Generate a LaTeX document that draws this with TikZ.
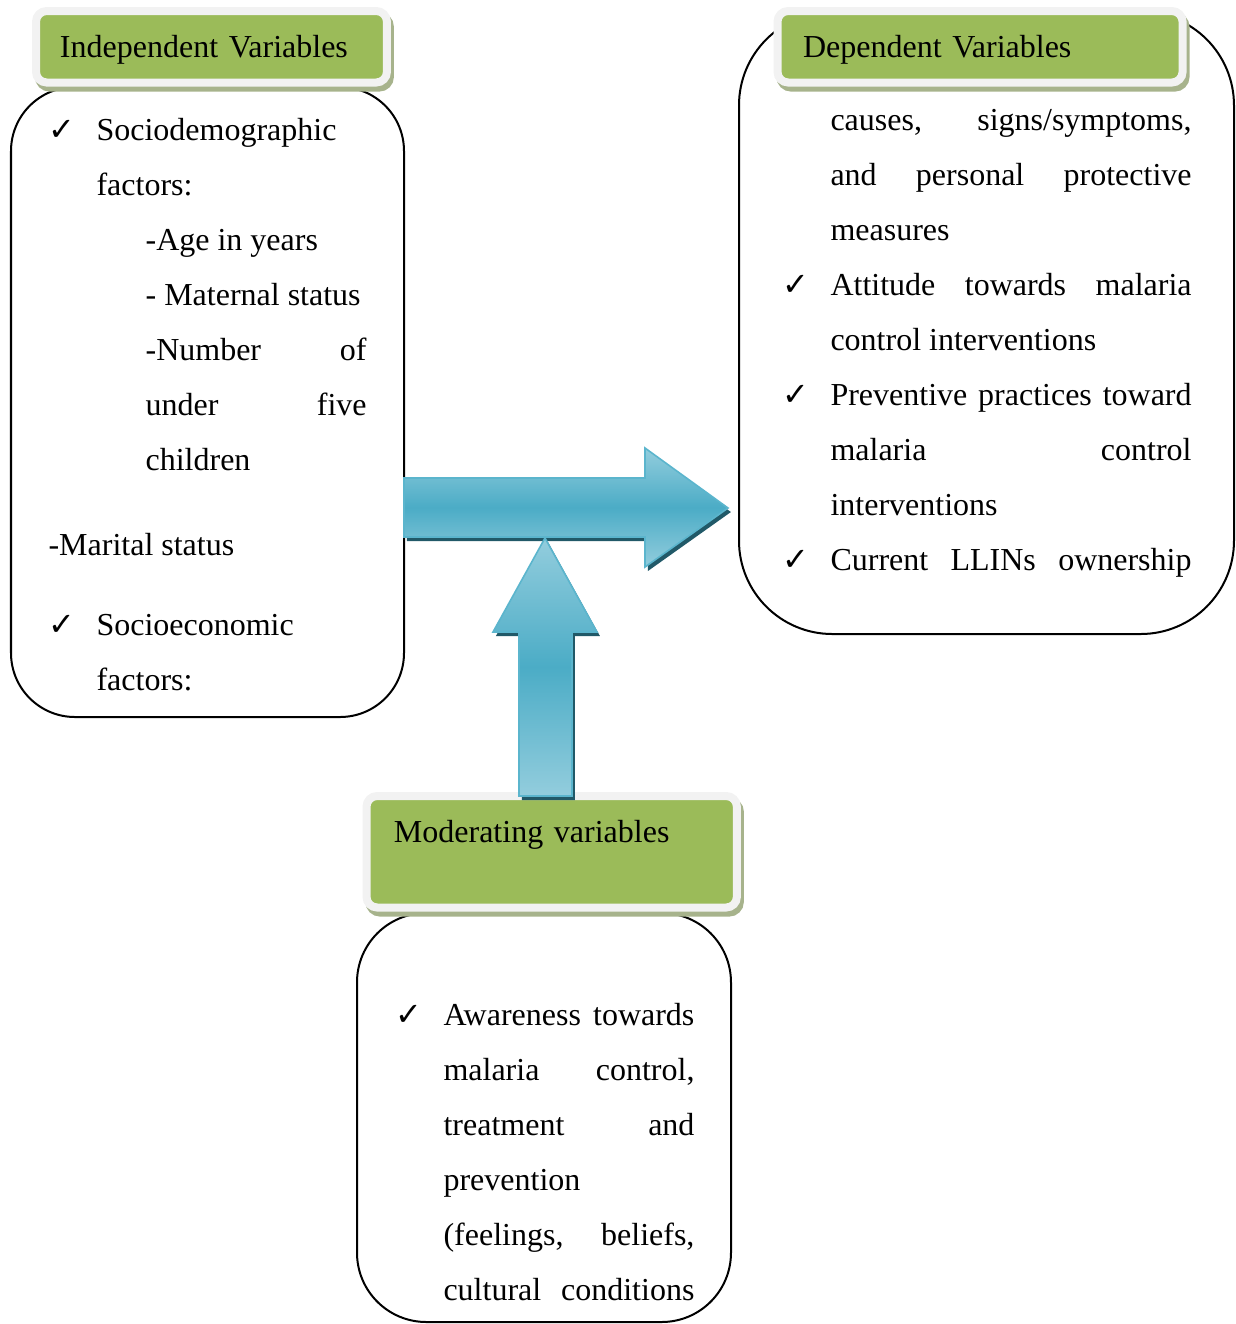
\documentclass[tikz,border=0pt]{standalone}
\usepackage{fontspec}
\setmainfont{Liberation Serif}
\newfontfamily\symfont{DejaVu Sans}
\usetikzlibrary{shadows}

\definecolor{hdrgreen}{HTML}{9BBB59}
\definecolor{hdrframe}{HTML}{F2F2F2}
\definecolor{hdrshadow}{HTML}{A7B38C}
\definecolor{arrlight}{HTML}{93CDDD}
\definecolor{arrmid}{HTML}{4BACC6}
\definecolor{arredge}{HTML}{5BB5CD}
\definecolor{arrshadow}{HTML}{215968}

\tikzset{every picture/.style={x=0.375pt,y=-0.375pt}}
\tikzset{hdr/.style = {draw=hdrframe, line width=3pt, fill=hdrgreen, rounded corners=4pt,
  anchor=north west, inner ysep=0pt, outer sep=0pt, align=left, font=\fontsize{12}{14}\selectfont,
  drop shadow={shadow xshift=1.1pt, shadow yshift=-1.9pt, fill=hdrshadow, draw=hdrshadow, line width=3pt, opacity=1}}}
\tikzset{varbox/.style = {draw, line width=0.75pt}}
\tikzset{body/.style = {anchor=base west, inner sep=0pt, font=\fontsize{12}{20.625}\selectfont}}
\tikzset{blockarrow/.style = {draw=arredge, line width=0.6pt, top color=arrlight, bottom color=arrlight, middle color=arrmid,
  preaction={fill=arrshadow, transform canvas={shift={(1.1pt,-1.5pt)}}}}}

\newcommand{\tick}{\makebox[18pt][l]{\symfont ✓}}
\newcommand{\jline}[2]{\makebox[#1][s]{#2}}

\begin{document}
\begin{tikzpicture}
\useasboundingbox (0,0) rectangle (1236,1324);
% rounded boxes
\draw[varbox, rounded corners=24pt] (11,87) rectangle (404,717);
\draw[varbox, rounded corners=35pt] (739,12) rectangle (1234,634);
\draw[varbox, rounded corners=26pt] (357,913) rectangle (731,1322);
%
\node[hdr, minimum width=131.6pt, inner xsep=9pt, text width=113.6pt, text height=17.25pt, text depth=9.56pt]
  (indep) at (36,11) {Independent Variables};
\node[hdr, minimum width=151.9pt, inner xsep=9.56pt, text width=132.75pt, text height=17.25pt, text depth=9.56pt]
  (dep) at (777.5,11) {Dependent Variables};
\node[hdr, minimum width=138.9pt, inner xsep=10.3pt, text width=118.3pt, text height=17.25pt, text depth=24.56pt]
  (moder) at (366.5,796) {Moderating variables};
%
\node[body] (indeptext) at (48,140) {\parbox[t]{160pt}{\raggedright
\tick Sociodemographic\\
\hspace*{18pt}factors:\\
\hspace*{36.4pt}-Age in years\\
\hspace*{36.4pt}- Maternal status\\
\hspace*{36.4pt}\jline{82.9pt}{-Number of}\\
\hspace*{36.4pt}\jline{82.9pt}{under five}\\
\hspace*{36.4pt}children\\[11.25pt]
-Marital status\\[9.4pt]
\tick Socioeconomic\\
\hspace*{18pt}factors:}};
\node[body] (deptext) at (782,130) {\parbox[t]{170pt}{\raggedright
\hspace*{18pt}\jline{135.4pt}{causes, signs/symptoms,}\\
\hspace*{18pt}\jline{135.4pt}{and personal protective}\\
\hspace*{18pt}measures\\
\tick\jline{135.4pt}{Attitude towards malaria}\\
\hspace*{18pt}control interventions\\
\tick\jline{135.4pt}{Preventive practices toward}\\
\hspace*{18pt}\jline{135.4pt}{malaria control}\\
\hspace*{18pt}interventions\\
\tick\jline{135.4pt}{Current LLINs ownership}}};
\node[body] (modtext) at (395,1025) {\parbox[t]{130pt}{\raggedright
\tick\jline{94.1pt}{Awareness towards}\\
\hspace*{18pt}\jline{94.1pt}{malaria control,}\\
\hspace*{18pt}\jline{94.1pt}{treatment and}\\
\hspace*{18pt}prevention\\
\hspace*{18pt}\jline{94.1pt}{(feelings, beliefs,}\\
\hspace*{18pt}\jline{94.1pt}{cultural conditions}}};
% block arrows
\draw[blockarrow] (404,478) -- (645,478) -- (645,448) -- (728,508) -- (645,567) -- (645,537) -- (404,537) -- cycle;
\draw[blockarrow] (545,538) -- (597,632) -- (572,632) -- (572,796) -- (519,796) -- (519,632) -- (493,632) -- cycle;
\end{tikzpicture}
\end{document}
